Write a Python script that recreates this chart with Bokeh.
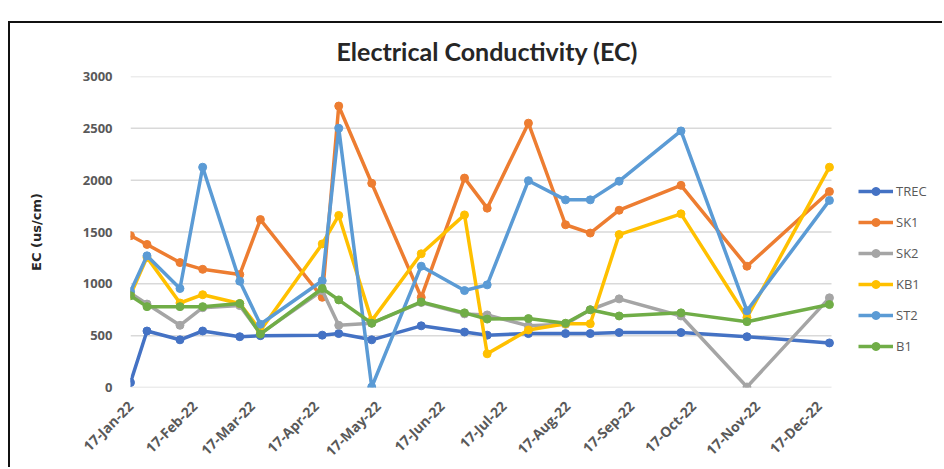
import math
import pandas as pd
from bokeh.plotting import figure
from bokeh.models import (Range1d, FixedTicker, DatetimeTickFormatter, Legend,
                          LegendItem, ColumnDataSource)
from bokeh.embed import file_html
from bokeh.resources import INLINE

# Sampling dates (2022)
dates = ["2022-01-17", "2022-01-25", "2022-02-10", "2022-02-21", "2022-03-11",
         "2022-03-21", "2022-04-20", "2022-04-28", "2022-05-14", "2022-06-07",
         "2022-06-28", "2022-07-09", "2022-07-29", "2022-08-16", "2022-08-28",
         "2022-09-11", "2022-10-11", "2022-11-12", "2022-12-22"]

# EC readings (us/cm) per station
trec = [48, 545, 460, 545, 490, 500, 505, 520, 460, 595,
        535, 505, 520, 520, 520, 530, 530, 490, 430]
sk1 = [1465, 1380, 1205, 1140, 1090, 1620, 870, 2715, 1970, 870,
       2020, 1730, 2550, 1570, 1490, 1710, 1950, 1170, 1890]
sk2 = [910, 805, 600, 770, 790, 520, 935, 600, 620, 820,
       710, 700, 595, 610, 750, 855, 690, 5, 865]
kb1 = [895, 1255, 815, 895, 810, 550, 1385, 1660, 645, 1290,
       1665, 325, 555, 615, 615, 1475, 1675, 675, 2125]
st2 = [925, 1270, 955, 2125, 1025, 610, 1030, 2500, 5, 1170,
       935, 990, 1995, 1810, 1810, 1990, 2475, 740, 1805]
b1 = [885, 780, 780, 780, 810, 515, 955, 845, 620, 825,
      720, 660, 665, 620, 750, 690, 720, 635, 800]

series_names = ["TREC", "SK1", "SK2", "KB1", "ST2", "B1"]
series_values = [trec, sk1, sk2, kb1, st2, b1]
series_colors = ["#4472C4", "#ED7D31", "#A5A5A5", "#FFC000", "#5B9BD5", "#70AD47"]

tick_months = list(range(1, 13))
y_ticks = [0, 500, 1000, 1500, 2000, 2500, 3000]

x = pd.to_datetime(dates)

# The plotting frame runs to the right edge so the legend can sit beside the
# data area; the date axis is padded past the data window accordingly.
PLOT_W = 701      # width of the gridded data window
FRAME_W = 814     # full frame width including the legend strip
x_start = pd.Timestamp("2022-01-17")
x_data_end = pd.Timestamp("2022-12-23")
x_end = x_start + (x_data_end - x_start) * (FRAME_W / PLOT_W)

p = figure(width=934, height=446, output_backend="svg", toolbar_location=None,
           x_range=Range1d(x_start, x_end), y_range=Range1d(0, 3000),
           min_border_left=120, min_border_right=0, min_border_top=53,
           min_border_bottom=82)
p.margin = (21, 0, 0, 8)
p.styles = {"border-top": "2px solid #111111", "border-left": "2px solid #111111"}

p.title.text = "Electrical Conductivity (EC)"
p.title.align = "left"
p.title.offset = 206
p.title.text_font = "Lato"
p.title.text_font_size = "25px"
p.title.text_color = "#262626"
p.title.text_font_style = "bold"
p.title.standoff = 21

p.outline_line_color = None
p.background_fill_color = "white"
p.border_fill_color = "white"

# axes
p.xaxis.ticker = FixedTicker(ticks=[pd.Timestamp(2022, m, 17).timestamp() * 1000
                                    for m in tick_months])
fmt = "%d-%b-%y"
p.xaxis.formatter = DatetimeTickFormatter(
    milliseconds=fmt, seconds=fmt, minsec=fmt, minutes=fmt, hourmin=fmt,
    hours=fmt, days=fmt, months=fmt, years=fmt)
p.xaxis.major_label_orientation = math.pi / 4
p.yaxis.ticker = FixedTicker(ticks=y_ticks)
for ax in (p.xaxis[0], p.yaxis[0]):
    ax.axis_line_color = None
    ax.major_tick_line_color = None
    ax.minor_tick_line_color = None
    ax.major_label_text_font = "Open Sans"
    ax.major_label_text_font_style = "bold"
    ax.major_label_text_font_size = "13px"
    ax.major_label_text_color = "#595959"
p.xaxis.major_label_text_font_size = "14px"
p.yaxis.major_label_standoff = 12
p.xaxis.major_label_standoff = 10
p.yaxis.axis_label = "EC (us/cm)"
p.yaxis.axis_label_text_font = "DejaVu Sans"
p.yaxis.axis_label_text_font_size = "13px"
p.yaxis.axis_label_text_font_style = "bold"
p.yaxis.axis_label_text_color = "#262626"
p.yaxis.axis_label_standoff = 36

# horizontal gridlines across the data window only
p.xgrid.grid_line_color = None
p.ygrid.grid_line_color = None
p.segment(x0=[x_start] * len(y_ticks), x1=[x_data_end] * len(y_ticks),
          y0=y_ticks, y1=y_ticks, line_color="#D9D9D9", line_width=1.5)

items = []
for name, vals, col in zip(series_names, series_values, series_colors):
    src = ColumnDataSource(dict(x=x, y=vals))
    ln = p.line("x", "y", source=src, line_color=col, line_width=3.5)
    mk = p.scatter("x", "y", source=src, size=8, fill_color=col, line_color=col)
    items.append(LegendItem(label=name, renderers=[ln, mk]))

legend = Legend(items=items, location=(728, 31), orientation="vertical",
                glyph_width=35, glyph_height=20, label_height=20,
                label_standoff=3, spacing=11, padding=0, margin=0,
                label_text_font="Open Sans", label_text_font_size="13px",
                label_text_color="#595959", border_line_color=None,
                background_fill_alpha=0)
p.add_layout(legend)

open("out.html", "w").write(file_html(p, INLINE))
